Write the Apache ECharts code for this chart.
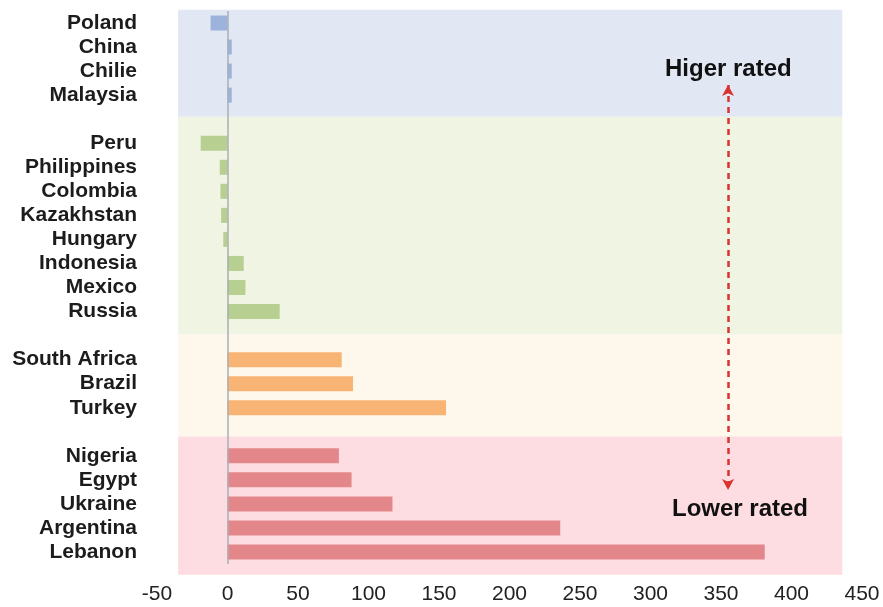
<!DOCTYPE html>
<html>
<head>
<meta charset="utf-8">
<script src="https://cdn.jsdelivr.net/npm/echarts@6/dist/echarts.min.js"></script>
<style>
html,body{margin:0;padding:0;background:#fff;}
#chart{width:883px;height:607px;}
</style>
</head>
<body>
<div id="chart"></div>
<script>
// ---- data ----
var categories = ['Poland','China','Chilie','Malaysia',' ',
  'Peru','Philippines','Colombia','Kazakhstan','Hungary','Indonesia','Mexico','Russia','  ',
  'South Africa','Brazil','Turkey','   ',
  'Nigeria','Egypt','Ukraine','Argentina','Lebanon'];
var values = [-12, 3, 3, 3, null,
  -19, -5.5, -5, -4.5, -3, 11.5, 12.7, 37, null,
  81, 89, 155, null,
  79, 88, 117, 236, 381];
var groupOf = [0,0,0,0,0, 1,1,1,1,1,1,1,1,1, 2,2,2,2, 3,3,3,3,3];
var xTicks = {min: -50, max: 450, interval: 50};
// background band extents (x in data units, y in category slot units)
var bandX = [-35, 436];
var bandEdges = [-0.55, 3.9, 12.95, 17.2, 22.95];
var arrowX = 355;
var arrowY = [2.58, 19.42];

// ---- styles ----
var barColors = ['#9cb3db', '#b7cf90', '#f8b474', '#e4878a'];
var bandColors = ['#e2e7f4', '#eff4e3', '#fef7ec', '#fddde1'];
var FONT = '"Liberation Sans", Arial, sans-serif';

var bandData = [];
for (var i = 0; i < 4; i++) {
  bandData.push([bandX[0], bandX[1], bandEdges[i], bandEdges[i+1], i]);
}

var chart = echarts.init(document.getElementById('chart'), null, {renderer: 'canvas'});
chart.setOption({
  animation: false,
  backgroundColor: '#ffffff',
  grid: {left: 157, right: 21, top: 11, bottom: 43, containLabel: false},
  xAxis: [{
    type: 'value', min: xTicks.min, max: xTicks.max, interval: xTicks.interval,
    axisLine: {show: false}, axisTick: {show: false}, splitLine: {show: false},
    axisLabel: {fontFamily: FONT, fontSize: 21, color: '#222', margin: 20}
  }],
  yAxis: [{
    type: 'category', data: categories, inverse: true,
    axisLine: {show: false}, axisTick: {show: false}, splitLine: {show: false},
    axisLabel: {interval: 0, fontFamily: FONT, fontSize: 21, fontWeight: 'bold', color: '#1c1c1c', margin: 20}
  }, {
    type: 'value', min: -0.5, max: categories.length - 0.5, inverse: true, show: false
  }],
  series: [{
    type: 'custom',
    xAxisIndex: 0, yAxisIndex: 1,
    z: 0, silent: true, clip: false,
    data: bandData,
    renderItem: function (params, api) {
      var p0 = api.coord([api.value(0), api.value(2)]);
      var p1 = api.coord([api.value(1), api.value(3)]);
      return {
        type: 'rect',
        shape: {x: p0[0], y: p0[1], width: p1[0] - p0[0], height: p1[1] - p0[1]},
        style: {fill: bandColors[api.value(4)]}
      };
    },
    markLine: {
      silent: true,
      symbol: ['arrow', 'arrow'],
      symbolSize: [9, 11],
      label: {show: false},
      lineStyle: {type: [6, 5], color: '#d8332f', width: 2.5},
      data: [[{coord: [arrowX, arrowY[0]]}, {coord: [arrowX, arrowY[1]]}]]
    }
  }, {
    type: 'bar',
    xAxisIndex: 0, yAxisIndex: 0,
    z: 2,
    barWidth: 15,
    data: values,
    itemStyle: {
      color: function (p) { return barColors[groupOf[p.dataIndex]]; }
    },
    markLine: {
      silent: true, symbol: 'none', label: {show: false},
      lineStyle: {type: 'solid', color: '#a9aeb8', width: 1.5},
      data: [{xAxis: 0}]
    }
  }],
  graphic: [{
    type: 'text', left: 728 - 63, top: 67 - 10, z: 10,
    style: {text: 'Higer rated', font: 'bold 24px ' + FONT, fill: '#111'}
  }, {
    type: 'text', left: 740 - 68, top: 507 - 10, z: 10,
    style: {text: 'Lower rated', font: 'bold 24px ' + FONT, fill: '#111'}
  }]
});
</script>
</body>
</html>
